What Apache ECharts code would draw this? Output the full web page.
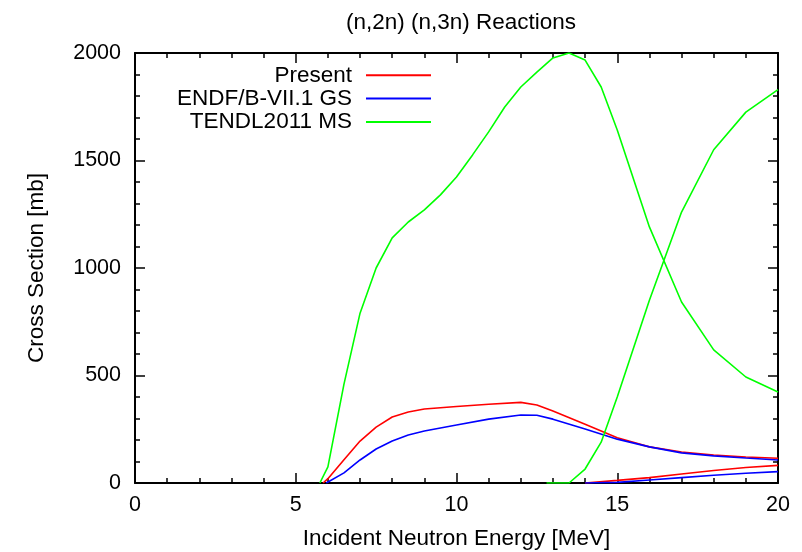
<!DOCTYPE html>
<html>
<head>
<meta charset="utf-8">
<script src="https://cdn.jsdelivr.net/npm/echarts@6/dist/echarts.min.js"></script>
<style>html,body{margin:0;padding:0;background:#fff;}#c{width:802px;height:552px;}</style>
</head>
<body>
<div id="c"></div>
<script>
// (n,2n) data
const presentN2nE = [5.85, 6.0, 6.5, 7.0, 7.5, 8.0, 8.5, 9.0, 10.0, 11.0, 12.0, 12.5, 13.0, 14.0, 15.0, 16.0, 17.0, 18.0, 19.0, 20.0];
const presentN2n  = [0, 20, 108, 195, 260, 307, 330, 344, 356, 366, 375, 363, 335, 273, 210, 168, 144, 130, 121, 115];
const endfN2nE = [5.95, 6.5, 7.0, 7.5, 8.0, 8.5, 9.0, 10.0, 11.0, 12.0, 12.5, 13.0, 14.0, 15.0, 16.0, 17.0, 18.0, 19.0, 20.0];
const endfN2n  = [0, 47, 107, 158, 195, 223, 242, 270, 297, 316, 315, 297, 251, 204, 168, 140, 126, 116, 107];
const tendlN2nE = [5.75, 6.0, 6.5, 7.0, 7.5, 8.0, 8.5, 9.0, 9.5, 10.0, 10.5, 11.0, 11.5, 12.0, 12.5, 13.0, 13.5, 14.0, 14.5, 15.0, 16.0, 17.0, 18.0, 19.0, 20.0];
const tendlN2n  = [0, 75, 460, 790, 1000, 1140, 1214, 1270, 1340, 1423, 1526, 1633, 1749, 1842, 1911, 1977, 2000, 1967, 1842, 1642, 1191, 842, 619, 493, 423];
// (n,3n) data
const presentN3nE = [14.0, 15.0, 16.0, 17.0, 18.0, 19.0, 20.0];
const presentN3n  = [0, 12, 25, 42, 58, 72, 82];
const endfN3nE = [14.0, 15.0, 16.0, 17.0, 18.0, 19.0, 20.0];
const endfN3n  = [0, 3, 14, 25, 36, 45, 53];
const tendlN3nE = [12.8, 13.5, 14.0, 14.5, 15.0, 16.0, 17.0, 18.0, 19.0, 20.0];
const tendlN3n  = [0, 0, 65, 190, 400, 850, 1260, 1550, 1725, 1830];

const legendNames = ['Present', 'ENDF/B-VII.1 GS', 'TENDL2011 MS'];
const xTicks = [0, 5, 10, 15, 20];
const yTicks = [0, 500, 1000, 1500, 2000];

const pairs = (xs, ys) => xs.map((x, i) => [x, ys[i]]);
const FONT = 'Liberation Sans, Arial, Helvetica, sans-serif';
const colors = ['#ff0000', '#0000ff', '#00ff00'];
const TXT = 22.5;
const TICK = 21.5;

function mkSeries(name, color, data) {
  return {
    name: name, type: 'line', data: data, symbol: 'none', smooth: false,
    lineStyle: { color: color, width: 1.6 }, itemStyle: { color: color },
    animation: false, z: 3
  };
}

const axisCommon = {
  type: 'value',
  axisLine: { show: true, onZero: false, lineStyle: { color: '#000', width: 2 } },
  axisTick: { show: true, inside: true, length: 10, lineStyle: { color: '#000', width: 1.5 } },
  minorTick: { show: true, splitNumber: 5, length: 5, lineStyle: { color: '#000', width: 1.5 } },
  splitLine: { show: false },
  minorSplitLine: { show: false }
};

const chart = echarts.init(document.getElementById('c'), null, { renderer: 'canvas' });
chart.setOption({
  backgroundColor: '#fff',
  animation: false,
  textStyle: { fontFamily: FONT },
  title: {
    text: '(n,2n) (n,3n) Reactions',
    left: 456, top: 6, textAlign: 'center',
    textStyle: { fontFamily: FONT, fontSize: TXT, fontWeight: 'normal', color: '#000' }
  },
  legend: legendNames.map((n, i) => ({
    data: [n], right: 371, top: 63.8 + i * 23.3, orient: 'vertical', align: 'right',
    padding: 0, icon: 'rect', itemWidth: 65, itemHeight: 2, selectedMode: false,
    textStyle: { fontFamily: FONT, fontSize: TXT, color: '#000', padding: [0, 9, 0, 0] }
  })),
  grid: { left: 135, right: 24, top: 53, bottom: 69, containLabel: false, outerBoundsMode: 'none' },
  xAxis: [
    Object.assign({}, axisCommon, {
      position: 'bottom', min: xTicks[0], max: xTicks[xTicks.length - 1], interval: 5,
      axisLabel: { show: true, margin: 11, fontSize: TICK, color: '#000', fontFamily: FONT },
      name: 'Incident Neutron Energy [MeV]', nameLocation: 'middle', nameGap: 44,
      nameTextStyle: { fontSize: TXT, color: '#000', fontFamily: FONT }
    }),
    Object.assign({}, axisCommon, {
      position: 'top', min: xTicks[0], max: xTicks[xTicks.length - 1], interval: 5,
      axisLabel: { show: false }
    })
  ],
  yAxis: [
    Object.assign({}, axisCommon, {
      position: 'left', min: yTicks[0], max: yTicks[yTicks.length - 1], interval: 500,
      axisLabel: { show: true, margin: 14, fontSize: TICK, color: '#000', fontFamily: FONT,
        formatter: v => String(v) },
      name: 'Cross Section [mb]', nameLocation: 'middle', nameGap: 87, nameRotate: 90,
      nameTextStyle: { fontSize: TXT, color: '#000', fontFamily: FONT }
    }),
    Object.assign({}, axisCommon, {
      position: 'right', min: yTicks[0], max: yTicks[yTicks.length - 1], interval: 500,
      axisLabel: { show: false }
    })
  ],
  series: [
    mkSeries(legendNames[0], colors[0], pairs(presentN2nE, presentN2n)),
    mkSeries(legendNames[1], colors[1], pairs(endfN2nE, endfN2n)),
    mkSeries(legendNames[2], colors[2], pairs(tendlN2nE, tendlN2n)),
    mkSeries(legendNames[0], colors[0], pairs(presentN3nE, presentN3n)),
    mkSeries(legendNames[1], colors[1], pairs(endfN3nE, endfN3n)),
    mkSeries(legendNames[2], colors[2], pairs(tendlN3nE, tendlN3n))
  ]
});
</script>
</body>
</html>
